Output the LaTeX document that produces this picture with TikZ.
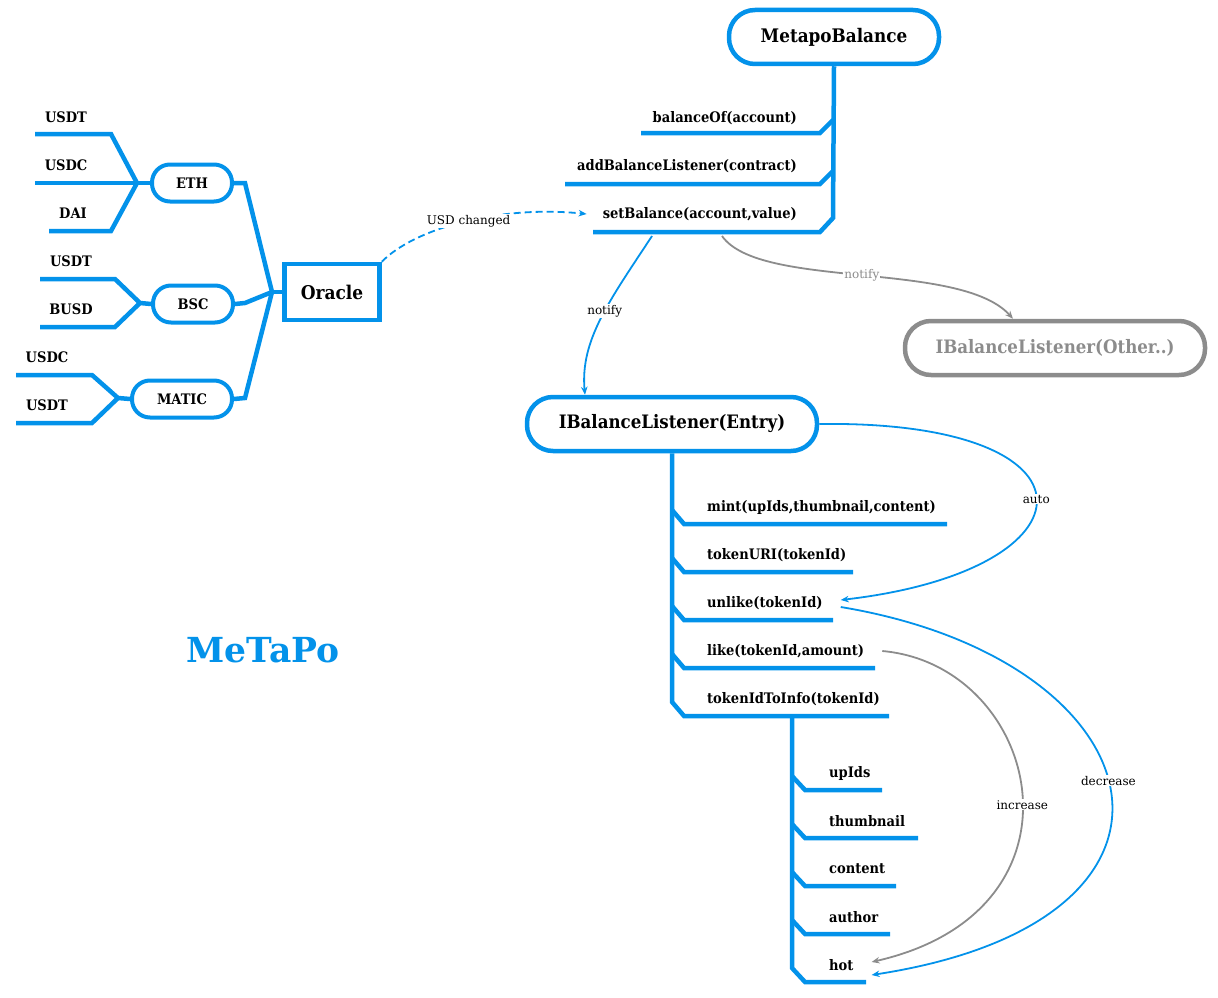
\documentclass[tikz,border=0pt]{standalone}
\usepackage{fontspec}
\setmainfont{DejaVu Serif}
\newfontfamily\slab{DejaVu Serif Condensed}
\usepackage{xcolor}
\usetikzlibrary{arrows.meta}
\definecolor{metablue}{RGB}{3,146,234}
\definecolor{metagray}{RGB}{140,140,140}

\begin{document}
\begin{tikzpicture}[x=1pt, y=-1pt, >={Stealth[length=8pt, width=6.5pt]},
    branch/.style={draw=metablue, line width=4.5pt},
    tag/.style={font=\slab\bfseries\fontsize{14.5}{17}\selectfont, inner sep=2pt},
    pill/.style={draw=metablue, line width=4pt, rounded corners=18pt, minimum height=37pt, tag},
    bigpill/.style={draw=metablue, line width=4.5pt, rounded corners=26pt, minimum height=54pt, font=\slab\bfseries\fontsize{18.5}{21}\selectfont},
    note/.style={font=\fontsize{12}{14}\selectfont, text=black, fill=white, inner sep=1pt},
    link/.style={->, metablue, line width=1.8pt}]
    \useasboundingbox (0,0) rectangle (1218,998);

    % Chain nodes and the oracle
    \node[pill, minimum width=80pt] (eth) at (192,183) {ETH};
    \node[pill, minimum width=80pt] (bsc) at (193,304) {BSC};
    \node[pill, minimum width=100pt] (matic) at (182,399) {MATIC};
    \node[draw=metablue, line width=4.5pt, minimum width=95pt, minimum height=56pt,
          font=\slab\bfseries\fontsize{18.9}{21}\selectfont] (oracle) at (332,292) {Oracle};

    % Tokens of ETH
    \coordinate (ethj) at (137,183);
    \draw[branch] (eth.west) -- (35,183);
    \draw[branch] (ethj) -- ++(-26,-49) -- ++(-76,0);
    \draw[branch] (ethj) -- ++(-26,48) -- ++(-62,0);
    \node[tag] (ethusdt) at (66,117) {USDT};
    \node[tag] (ethusdc) at (66,165) {USDC};
    \node[tag] (ethdai) at (73,213) {DAI};

    % Tokens of BSC
    \coordinate (bscj) at (140,303);
    \draw[branch] (bsc.west) -- (bscj) -- ++(-25,-24) -- ++(-75,0);
    \draw[branch] (bscj) -- ++(-25,24) -- ++(-75,0);
    \node[tag] (bscusdt) at (71,261) {USDT};
    \node[tag] (bscbusd) at (71,309) {BUSD};

    % Tokens of MATIC
    \coordinate (maticj) at (118,398);
    \draw[branch] (matic.west) -- (maticj) -- ++(-26,-23) -- ++(-76,0);
    \draw[branch] (maticj) -- ++(-26,25) -- ++(-76,0);
    \node[tag] (maticusdc) at (47,357) {USDC};
    \node[tag] (maticusdt) at (47,405) {USDT};

    % Chains into the oracle
    \coordinate (orj) at (272,292);
    \draw[branch] (oracle.west) -- (orj);
    \draw[branch] (eth.east) -- (245,183) -- (orj);
    \draw[branch] (bsc.east) -- (245,303) -- (orj);
    \draw[branch] (matic.east) -- (245,398) -- (orj);

    % MetapoBalance and its functions
    \node[bigpill, minimum width=210pt, font=\slab\bfseries\fontsize{18.7}{21}\selectfont] (mb) at (834,37) {MetapoBalance};
    \draw[branch] (mb.south) -- (833,218) -- (820,232) -- (593,232);
    \draw[branch] (833,120) -- (820,133) -- (641,133);
    \draw[branch] (833,171) -- (820,184) -- (565,184);
    \node[tag, anchor=east] (balof) at (799,118) {balanceOf(account)};
    \node[tag, anchor=east] (addbl) at (799,166) {addBalanceListener(contract)};
    \node[tag, anchor=east] (setb) at (799,214) {setBalance(account,value)};

    % Listeners
    \node[bigpill, minimum width=290pt] (entry) at (672,424) {IBalanceListener(Entry)};
    \node[bigpill, draw=metagray, text=metagray, minimum width=300pt] (other) at (1055,348) {IBalanceListener(Other..)};

    % Functions of the entry listener
    \draw[branch] (entry.south) -- (672,702) -- (684,716) -- (889,716);
    \draw[branch] (672,510) -- (684,524) -- (947,524);
    \draw[branch] (672,558) -- (684,572) -- (853,572);
    \draw[branch] (672,606) -- (684,620) -- (833,620);
    \draw[branch] (672,654) -- (684,668) -- (875,668);
    \node[tag, anchor=west] (mint) at (705,507) {mint(upIds,thumbnail,content)};
    \node[tag, anchor=west] (turi) at (705,555) {tokenURI(tokenId)};
    \node[tag, anchor=west] (unlike) at (705,603) {unlike(tokenId)};
    \node[tag, anchor=west] (like) at (705,651) {like(tokenId,amount)};
    \node[tag, anchor=west] (tinfo) at (705,699) {tokenIdToInfo(tokenId)};

    % Fields of tokenIdToInfo
    \draw[branch] (792,716) -- (792,968) -- (805,982) -- (866,982);
    \draw[branch] (792,776) -- (805,790) -- (882,790);
    \draw[branch] (792,824) -- (805,838) -- (918,838);
    \draw[branch] (792,872) -- (805,886) -- (896,886);
    \draw[branch] (792,920) -- (805,934) -- (890,934);
    \node[tag, anchor=west] (upids) at (827,773) {upIds};
    \node[tag, anchor=west] (thumb) at (827,821) {thumbnail};
    \node[tag, anchor=west] (content) at (827,869) {content};
    \node[tag, anchor=west] (author) at (827,917) {author};
    \node[tag, anchor=west] (hot) at (827,965) {hot};

    % Title
    \node[font=\bfseries\fontsize{34.5}{40}\selectfont, text=metablue] (title) at (263,650) {MeTaPo};

    % Oracle tells the balance
    \draw[link, dash pattern=on 7pt off 4pt] (oracle.north east) .. controls (415,228) and (500,205) .. node[note, pos=0.52] {USD changed} ([xshift=-14pt]setb.west);

    % Balance notifies the listeners
    \coordinate (sbout) at (652,236);
    \coordinate (sbgray) at (722,236);
    \draw[link] (sbout) .. controls (610,300) and (580,340) .. node[note, pos=0.45] {notify} ([xshift=-87pt]entry.north);
    \draw[->, metagray, line width=1.8pt] (sbgray) .. controls (760,290) and (960,260) .. node[note, text=metagray, pos=0.5] {notify} ([xshift=-42pt]other.north);

    % Entry calls back
    \draw[link] (entry.east) .. controls (1110,420) and (1100,570) .. node[note, pos=0.5] {auto} ([shift={(16pt,3pt)}]unlike.east);
    \draw[link] ([shift={(16pt,-4pt)}]unlike.east) .. controls (1160,660) and (1230,920) .. node[note, pos=0.48] {decrease} ([shift={(16pt,-10pt)}]hot.east);
    \draw[->, metagray, line width=1.8pt] ([shift={(16pt,0pt)}]like.east) .. controls (1040,665) and (1100,910) .. node[note, pos=0.53] {increase} ([shift={(16pt,3pt)}]hot.east);
\end{tikzpicture}
\end{document}
